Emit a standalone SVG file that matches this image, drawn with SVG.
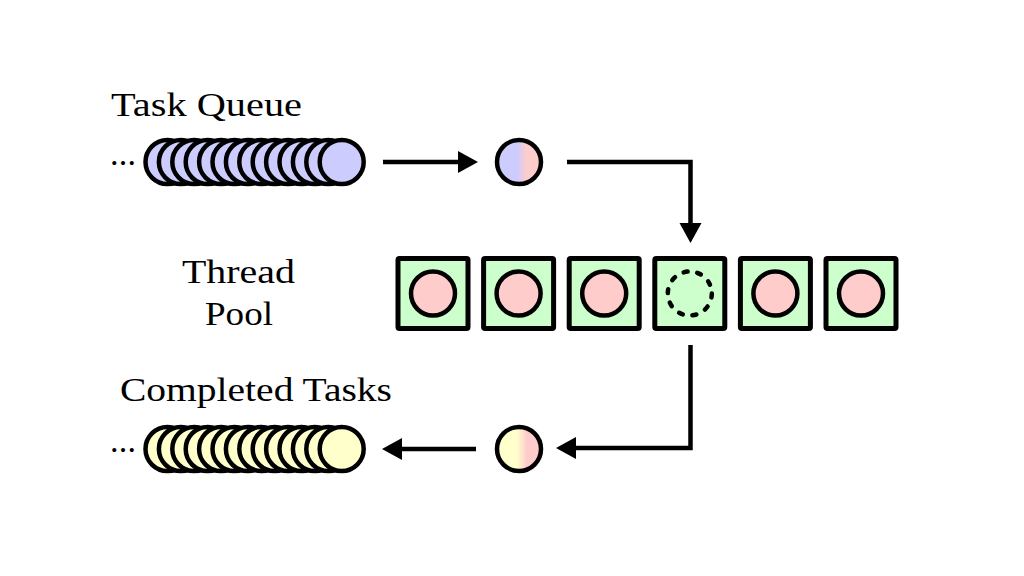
<svg xmlns="http://www.w3.org/2000/svg" width="1024" height="576" viewBox="0 0 1024 576">
<style>
.lbl{font-family:"Liberation Serif","Times New Roman",serif;font-size:34px;fill:#000}
.q circle{stroke:#000;stroke-width:4.5}
.blue{fill:#ccccff}
.yel{fill:#ffffcc}
.box{fill:#ccffcc;stroke:#000;stroke-width:5}
.tc{fill:#ffcccc;stroke:#000;stroke-width:4.5}
.dash{fill:none;stroke:#000;stroke-width:4.5;stroke-dasharray:4 9.82;stroke-linecap:round}
.tok{stroke:#000;stroke-width:4.5}
.conn{fill:none;stroke:#000;stroke-width:4.5;stroke-linejoin:miter;marker-end:url(#ah)}
</style>
<defs>
<marker id="ah" markerUnits="userSpaceOnUse" markerWidth="22" markerHeight="24" refX="10" refY="11" orient="auto" viewBox="0 0 22 22">
<path d="M0,0 L20,11 L0,22 Z" fill="#000"/>
</marker>
<linearGradient id="gBP" x1="0" y1="0" x2="1" y2="0">
<stop offset="0.45" stop-color="#ccccff"/>
<stop offset="0.68" stop-color="#ffcccc"/>
</linearGradient>
<linearGradient id="gYP" x1="0" y1="0" x2="1" y2="0">
<stop offset="0.45" stop-color="#ffffcc"/>
<stop offset="0.68" stop-color="#ffcccc"/>
</linearGradient>
</defs>
<rect width="1024" height="576" fill="#fff"/>

<g id="task-queue">
<text class="lbl" x="111" y="116" textLength="191" lengthAdjust="spacingAndGlyphs">Task Queue</text>
<text class="lbl" x="110" y="165" textLength="26" lengthAdjust="spacing">...</text>
<g class="q blue">
<circle cx="167.5" cy="162" r="22"/><circle cx="180.9" cy="162" r="22"/><circle cx="194.3" cy="162" r="22"/><circle cx="207.7" cy="162" r="22"/><circle cx="221.1" cy="162" r="22"/><circle cx="234.5" cy="162" r="22"/><circle cx="247.9" cy="162" r="22"/><circle cx="261.3" cy="162" r="22"/><circle cx="274.7" cy="162" r="22"/><circle cx="288.1" cy="162" r="22"/><circle cx="301.5" cy="162" r="22"/><circle cx="314.9" cy="162" r="22"/><circle cx="328.3" cy="162" r="22"/><circle cx="341.7" cy="162" r="22"/>
</g>
</g>

<g id="incoming-task">
<circle class="tok" cx="519" cy="162" r="22" fill="url(#gBP)"/>
</g>

<g id="thread-pool">
<text class="lbl" x="238.5" y="283" text-anchor="middle" textLength="113" lengthAdjust="spacingAndGlyphs">Thread</text>
<text class="lbl" x="239" y="325" text-anchor="middle" textLength="68" lengthAdjust="spacingAndGlyphs">Pool</text>
<g id="thread-1"><rect class="box" x="398" y="258.5" width="70" height="70" rx="1.5"/><circle class="tc" cx="433" cy="293.5" r="22"/></g>
<g id="thread-2"><rect class="box" x="483.6" y="258.5" width="70" height="70" rx="1.5"/><circle class="tc" cx="518.6" cy="293.5" r="22"/></g>
<g id="thread-3"><rect class="box" x="569.2" y="258.5" width="70" height="70" rx="1.5"/><circle class="tc" cx="604.2" cy="293.5" r="22"/></g>
<g id="thread-4"><rect class="box" x="654.8" y="258.5" width="70" height="70" rx="1.5"/><circle class="dash" cx="689.8" cy="293.5" r="22"/></g>
<g id="thread-5"><rect class="box" x="740.4" y="258.5" width="70" height="70" rx="1.5"/><circle class="tc" cx="775.4" cy="293.5" r="22"/></g>
<g id="thread-6"><rect class="box" x="826" y="258.5" width="70" height="70" rx="1.5"/><circle class="tc" cx="861" cy="293.5" r="22"/></g>
</g>

<g id="outgoing-task">
<circle class="tok" cx="519" cy="449" r="22" fill="url(#gYP)"/>
</g>

<g id="completed-tasks">
<text class="lbl" x="120" y="401" textLength="272" lengthAdjust="spacingAndGlyphs">Completed Tasks</text>
<text class="lbl" x="110" y="452" textLength="26" lengthAdjust="spacing">...</text>
<g class="q yel">
<circle cx="167.5" cy="449" r="22"/><circle cx="180.9" cy="449" r="22"/><circle cx="194.3" cy="449" r="22"/><circle cx="207.7" cy="449" r="22"/><circle cx="221.1" cy="449" r="22"/><circle cx="234.5" cy="449" r="22"/><circle cx="247.9" cy="449" r="22"/><circle cx="261.3" cy="449" r="22"/><circle cx="274.7" cy="449" r="22"/><circle cx="288.1" cy="449" r="22"/><circle cx="301.5" cy="449" r="22"/><circle cx="314.9" cy="449" r="22"/><circle cx="328.3" cy="449" r="22"/><circle cx="341.7" cy="449" r="22"/>
</g>
</g>

<g id="connectors">
<path class="conn" d="M383,162 H468"/>
<path class="conn" d="M567,162 H690.5 V233"/>
<path class="conn" d="M690.5,345 V448 H566"/>
<path class="conn" d="M476,449 H392"/>
</g>
</svg>
